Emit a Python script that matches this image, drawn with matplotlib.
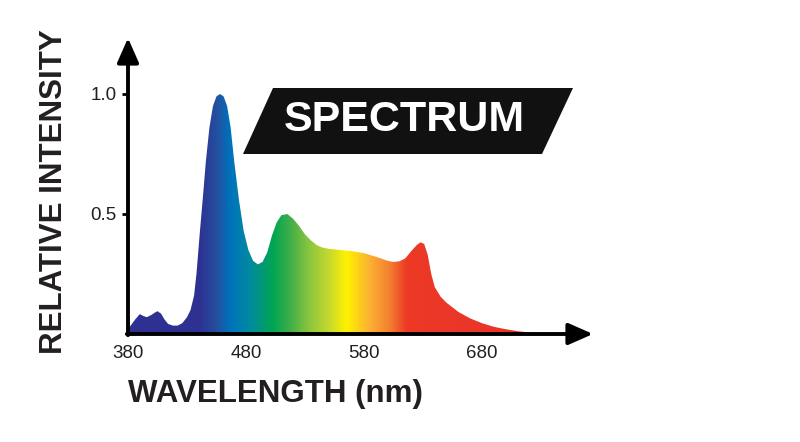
import numpy as np
import matplotlib.pyplot as plt
from matplotlib.colors import LinearSegmentedColormap
from matplotlib.patches import Polygon

# spectrum (wavelength nm, relative intensity)
wavelength = [380, 383, 386, 390, 393, 396, 400, 403, 405, 408, 411, 414, 418, 422, 426,
              430, 433, 436, 438, 441, 444, 446, 449, 452, 455, 458, 461, 464, 467, 470, 474,
              478, 482, 486, 490, 494, 498, 502, 506, 510, 515, 520, 525, 530, 535, 540, 545,
              550, 560, 570, 580, 590, 600, 605, 610, 615, 620, 625, 628, 631, 634, 637,
              640, 645, 650, 660, 670, 680, 690, 700, 710, 720, 730, 736]
intensity = [0.02, 0.04, 0.06, 0.083, 0.075, 0.07, 0.08, 0.09, 0.095, 0.085, 0.06, 0.042, 0.035,
             0.035, 0.045, 0.07, 0.1, 0.16, 0.25, 0.43, 0.60, 0.72, 0.86, 0.95, 0.99, 1.0, 0.99,
             0.95, 0.86, 0.72, 0.56, 0.43, 0.35, 0.305, 0.29, 0.30, 0.34, 0.41, 0.465, 0.495,
             0.50, 0.48, 0.45, 0.415, 0.39, 0.37, 0.36, 0.355, 0.35, 0.345, 0.337, 0.322, 0.305,
             0.30, 0.303, 0.315, 0.345, 0.372, 0.382, 0.375, 0.33, 0.25, 0.195, 0.155, 0.13,
             0.092, 0.065, 0.045, 0.03, 0.02, 0.012, 0.006, 0.002, 0.0]

x_ticks = [380, 480, 580, 680]
y_ticks = [0.5, 1.0]
y_tick_labels = ['0.5', '1.0']

# colour stops of the rainbow fill
stop_nm = [380, 440, 455, 466, 483, 503, 517, 534, 551, 565, 585, 602, 616, 740]
stop_colors = ['#2e3192', '#2e3192', '#24509f', '#0072bc', '#008aa0', '#00a651', '#3fae49',
               '#8dc63f', '#c8d92e', '#fff200', '#fbb034', '#f47f2f', '#ec3a26', '#e8312a']

plt.rcParams['font.family'] = ['Liberation Sans', 'DejaVu Sans']

W, H = 800, 442
fig = plt.figure(figsize=(8, 4.42), dpi=100)
x0_px, x1_px, y0_px, ytop_px = 128, 593, 334, 38
ax = fig.add_axes([x0_px / W, 1 - y0_px / H, (x1_px - x0_px) / W, (y0_px - ytop_px) / H])
xmax = 380 + (x1_px - x0_px) / 1.18
ymax = (y0_px - ytop_px) / 240
ax.set_xlim(380, xmax)
ax.set_ylim(0, ymax)
for s in ax.spines.values():
    s.set_visible(False)

# rainbow gradient clipped to the spectrum shape
lo, hi = stop_nm[0], stop_nm[-1]
cmap = LinearSegmentedColormap.from_list(
    'spec', [((n - lo) / (hi - lo), c) for n, c in zip(stop_nm, stop_colors)])
grad = np.linspace(0, 1, 512).reshape(1, -1)
im = ax.imshow(grad, cmap=cmap, extent=[lo, hi, 0, 1.05], aspect='auto',
               interpolation='bilinear', zorder=1)
verts = list(zip(wavelength, intensity)) + [(wavelength[-1], 0), (wavelength[0], 0)]
shape = Polygon(verts, closed=True, facecolor='none', edgecolor='none')
ax.add_patch(shape)
im.set_clip_path(shape)

# axes with arrow heads
arrow = dict(arrowstyle='-|>,head_length=0.75,head_width=0.33', lw=2.8, color='black',
             mutation_scale=20, shrinkA=0, shrinkB=0)
ax.annotate('', xy=(380, ymax), xytext=(380, -0.005), arrowprops=arrow, annotation_clip=False, zorder=5)
ax.annotate('', xy=(xmax, 0), xytext=(379, 0), arrowprops=arrow, annotation_clip=False, zorder=5)

ax.set_xticks(x_ticks)
ax.set_xticklabels([str(t) for t in x_ticks])
ax.set_yticks(y_ticks)
ax.set_yticklabels(y_tick_labels)
ax.tick_params(axis='x', length=0, pad=8, labelsize=13.5, labelcolor='#231f20')
ax.tick_params(axis='y', length=4, width=2, direction='out', pad=4, labelsize=13.5,
               labelcolor='#231f20')

# axis titles
fig.text(54 / W, 1 - 192 / H, 'RELATIVE INTENSITY', rotation=90, ha='center', va='center',
         fontsize=22.5, fontweight='bold', color='#231f20')
fig.text(275 / W, 1 - 394 / H, 'WAVELENGTH (nm)', ha='center', va='center',
         fontsize=22.5, fontweight='bold', color='#231f20')

# black slanted "SPECTRUM" banner
banner = [(273, 88), (573, 88), (542, 154), (243, 154)]
fig.patches.append(Polygon([(x / W, 1 - y / H) for x, y in banner], closed=True,
                           transform=fig.transFigure, facecolor='#111111', edgecolor='none'))
fig.text(404 / W, 1 - 120 / H, 'SPECTRUM', ha='center', va='center', fontsize=31,
         fontweight='bold', color='white')

fig.savefig('out.png', dpi=100)
